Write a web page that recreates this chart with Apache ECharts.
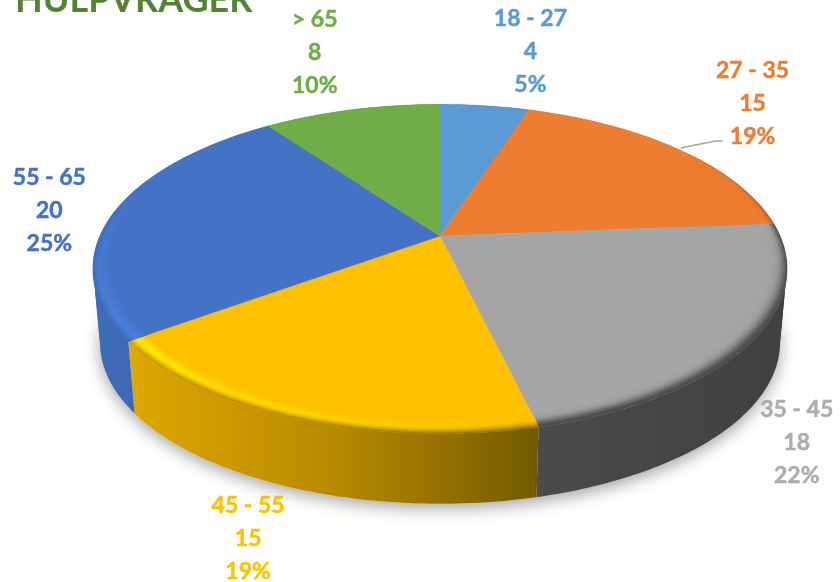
<!DOCTYPE html>
<html>
<head>
<meta charset="utf-8">
<style>html,body{margin:0;padding:0;background:#fff}#c{width:840px;height:582px}</style>
<script src="https://cdn.jsdelivr.net/npm/echarts@6/dist/echarts.min.js"></script>
</head>
<body>
<div id="c"></div>
<script>
// ---- data ----
const titleText = 'HULPVRAGER';
const categories = ['18 - 27', '27 - 35', '35 - 45', '45 - 55', '55 - 65', '> 65'];
const counts = [4, 15, 18, 15, 20, 8];
const percentLabels = ['5%', '19%', '22%', '19%', '25%', '10%'];

// ---- styles ----
const topColors = ['#5B9BD5', '#ED7D31', '#A5A5A5', '#FFC000', '#4472C4', '#70AD47'];
const labelColors = ['#5B9BD5', '#ED7D31', '#ADADAD', '#FFC000', '#4472C4', '#70AD47'];
const wallStops = [
  ['#4a7aa8', '#4a7aa8'],
  ['#a85a20', '#a85a20'],
  ['#4b4b4b', '#404040'],
  ['#dea800', '#b88a00', '#735a00'],
  ['#3f6cb8', '#3660a8'],
  ['#4f7a32', '#4f7a32']
];
// label centre relative to the slice's outer edge at its mid angle
const labelOffsets = [[46, -54], [75, -45], [45, 101], [-47, 120], [-65, -1], [-37, -57]];
const leaderOffsets = { 1: [[3, -1], [38, -8], [45, -8]] };
const rimKeys = [1, 0.99, 0.98, 0.97, 0.958, 0.945];
const rims = [
  { slice: 1, from: 55, to: 85.5,
    a: ['#ED7D31', '#ED7D31', '#ED7D31', '#ED7D31', '#ED7D31', '#ED7D31'],
    b: ['#a85a20', '#dc7230', '#ED7D31', '#ED7D31', '#ED7D31', '#ED7D31'] },
  { slice: 2, from: 85.5, to: 125,
    a: ['#4a4a4a', '#7a7a7a', '#a0a0a0', '#a5a5a5', '#a5a5a5', '#a5a5a5'],
    b: ['#424242', '#505050', '#6c6c6c', '#8c8c8c', '#a0a0a0', '#a5a5a5'] },
  { slice: 2, from: 125, to: 166.5,
    a: ['#424242', '#505050', '#6c6c6c', '#8c8c8c', '#a0a0a0', '#a5a5a5'],
    b: ['#424242', '#505050', '#6c6c6c', '#8c8c8c', '#a0a0a0', '#a5a5a5'] },
  { slice: 3, from: 166.5, to: 234,
    a: ['#7a6000', '#b89000', '#e0b000', '#f8c000', '#ffc200', '#FFC000'],
    b: ['#c49400', '#e8b800', '#ffe400', '#fff000', '#ffd000', '#FFC000'] },
  { slice: 4, from: 234, to: 292,
    a: ['#3a67b0', '#4378cc', '#4b82de', '#4a80da', '#4678ce', '#4472C4'],
    b: ['#4472C4', '#4472C4', '#4472C4', '#4472C4', '#4472C4', '#4472C4'] }
];
const PERSPECTIVE = 0.2;
const DEPTH = 0.47;      // plate thickness in axis units
const BOTTOM_SCALE = 0.98;
const FONT = 'bold 23px Lato, "Open Sans", sans-serif';
const LINE_H = 33;
const RIM_SUB = 3;

// ---- helpers ----
const total = counts.reduce((a, b) => a + b, 0);
const bounds = [0];
counts.forEach((c, i) => bounds.push(bounds[i] + c / total * 360));
// angles at which the rim is furthest left / right: the wall's silhouette
const apexRight = Math.acos(-PERSPECTIVE) * 180 / Math.PI;
const apexLeft = 360 - apexRight;

function model(deg, r) {
  const t = deg * Math.PI / 180, s = Math.sin(t) * r, c = Math.cos(t) * r;
  const w = 1 + PERSPECTIVE * c;
  return [s / w, c / w];
}
function topPt(api, deg, r) { return api.coord(model(deg, r)); }
function botPt(api, deg) {
  const m = model(deg, 1);
  return api.coord([m[0] * BOTTOM_SCALE, m[1] * BOTTOM_SCALE - DEPTH]);
}
function arc(from, to, fn) {
  const n = Math.max(2, Math.ceil(Math.abs(to - from)));
  const pts = [];
  for (let k = 0; k <= n; k++) pts.push(fn(from + (to - from) * k / n));
  return pts;
}
function hex(c) { return [1, 3, 5].map(p => parseInt(c.substr(p, 2), 16)); }
function mix(a, b, t) {
  const x = hex(a), y = hex(b);
  return '#' + x.map((v, i) => ('0' + Math.round(v + (y[i] - v) * t).toString(16)).slice(-2)).join('');
}

// ---- render functions ----
function renderShadow(params, api) {
  if (params.dataIndex !== 0) return null;
  const pts = arc(0, 360, d => botPt(api, d));
  return { type: 'polygon', shape: { points: pts },
    style: { fill: '#e8e8e8', shadowColor: 'rgba(0,0,0,0.35)', shadowBlur: 16, shadowOffsetX: 0, shadowOffsetY: 5 } };
}
function renderWall(params, api) {
  const i = api.value(2);
  const from = bounds[i], to = bounds[i + 1];
  const cuts = [from].concat([apexRight, apexLeft].filter(a => a > from && a < to), [to]);
  const xs = arc(from, to, d => topPt(api, d, 1)[0]).concat(arc(from, to, d => botPt(api, d)[0]));
  const x0 = Math.min.apply(null, xs), x1 = Math.max.apply(null, xs);
  const stops = wallStops[i].map((c, k, arr) => ({ offset: k / (arr.length - 1), color: c }));
  const children = [];
  for (let c = 0; c < cuts.length - 1; c++) {
    const top = arc(cuts[c], cuts[c + 1], d => topPt(api, d, 1));
    const bot = arc(cuts[c], cuts[c + 1], d => botPt(api, d));
    children.push({ type: 'polygon', shape: { points: top.concat(bot.reverse()) },
      style: { fill: new echarts.graphic.LinearGradient(x0, 0, x1, 0, stops, true) } });
  }
  return { type: 'group', children };
}
function renderTop(params, api) {
  const i = api.value(2);
  const pts = [api.coord([0, 0])].concat(arc(bounds[i], bounds[i + 1], d => topPt(api, d, 1)));
  const children = [{ type: 'polygon', shape: { points: pts },
    style: { fill: topColors[i], stroke: topColors[i], lineWidth: 0.4 } }];
  rims.filter(r => r.slice === i).forEach(r => {
    const segs = Math.ceil((r.to - r.from) / 1.5);
    for (let s = 0; s < rimKeys.length - 1; s++) {
      for (let q = 0; q < RIM_SUB; q++) {
        const f = (q + 0.5) / RIM_SUB;
        const r0 = rimKeys[s] + (rimKeys[s + 1] - rimKeys[s]) * q / RIM_SUB;
        const r1 = rimKeys[s] + (rimKeys[s + 1] - rimKeys[s]) * (q + 1) / RIM_SUB;
        const ca = mix(r.a[s], r.a[s + 1], f), cb = mix(r.b[s], r.b[s + 1], f);
        for (let k = 0; k < segs; k++) {
          const d0 = r.from + (r.to - r.from) * k / segs;
          const d1 = r.from + (r.to - r.from) * (k + 1) / segs;
          const col = mix(ca, cb, (k + 0.5) / segs);
          children.push({ type: 'polygon',
            shape: { points: [topPt(api, d0, r0), topPt(api, d1, r0), topPt(api, d1, r1), topPt(api, d0, r1)] },
            style: { fill: col, stroke: col, lineWidth: 0.5 } });
        }
      }
    }
  });
  return { type: 'group', children };
}
function renderLabel(params, api) {
  const i = api.value(2);
  const edge = topPt(api, (bounds[i] + bounds[i + 1]) / 2, 1);
  const cx = edge[0] + labelOffsets[i][0], cy = edge[1] + labelOffsets[i][1];
  const lines = [categories[i], String(counts[i]), percentLabels[i]];
  const children = lines.map((t, k) => ({ type: 'text',
    style: { text: t, x: cx, y: cy + (k - 1) * LINE_H, fill: labelColors[i], font: FONT,
             stroke: labelColors[i], lineWidth: 0.5,
             textAlign: 'center', textVerticalAlign: 'middle' } }));
  if (leaderOffsets[i]) {
    children.push({ type: 'polyline',
      shape: { points: leaderOffsets[i].map(o => [edge[0] + o[0], edge[1] + o[1]]) },
      style: { stroke: '#A6A6A6', lineWidth: 1.5, fill: 'none' } });
  }
  return { type: 'group', children };
}

// ---- chart ----
const rows = counts.map((c, i) => [0, 0, i, c]);
const layer = (name, fn, z) => ({ name, type: 'custom', coordinateSystem: 'cartesian2d', renderItem: fn, data: rows,
  encode: { x: 0, y: 1 }, z, clip: false, silent: true, animation: false });

const chart = echarts.init(document.getElementById('c'), null, { renderer: 'canvas' });
chart.setOption({
  animation: false,
  backgroundColor: '#fff',
  title: { text: titleText, left: 10, top: -23,
    textStyle: { color: '#548235', fontFamily: 'Lato, "Open Sans", sans-serif', fontWeight: 'bold', fontSize: 36 } },
  grid: { left: 100, top: 78, width: 680, height: 316 },
  xAxis: { type: 'value', min: -1, max: 1, show: false },
  yAxis: { type: 'value', min: -1, max: 1, show: false },
  tooltip: { show: false },
  series: [
    layer('shadow', renderShadow, 1),
    layer('wall', renderWall, 2),
    layer('top', renderTop, 3),
    layer('label', renderLabel, 4)
  ]
});
</script>
</body>
</html>
